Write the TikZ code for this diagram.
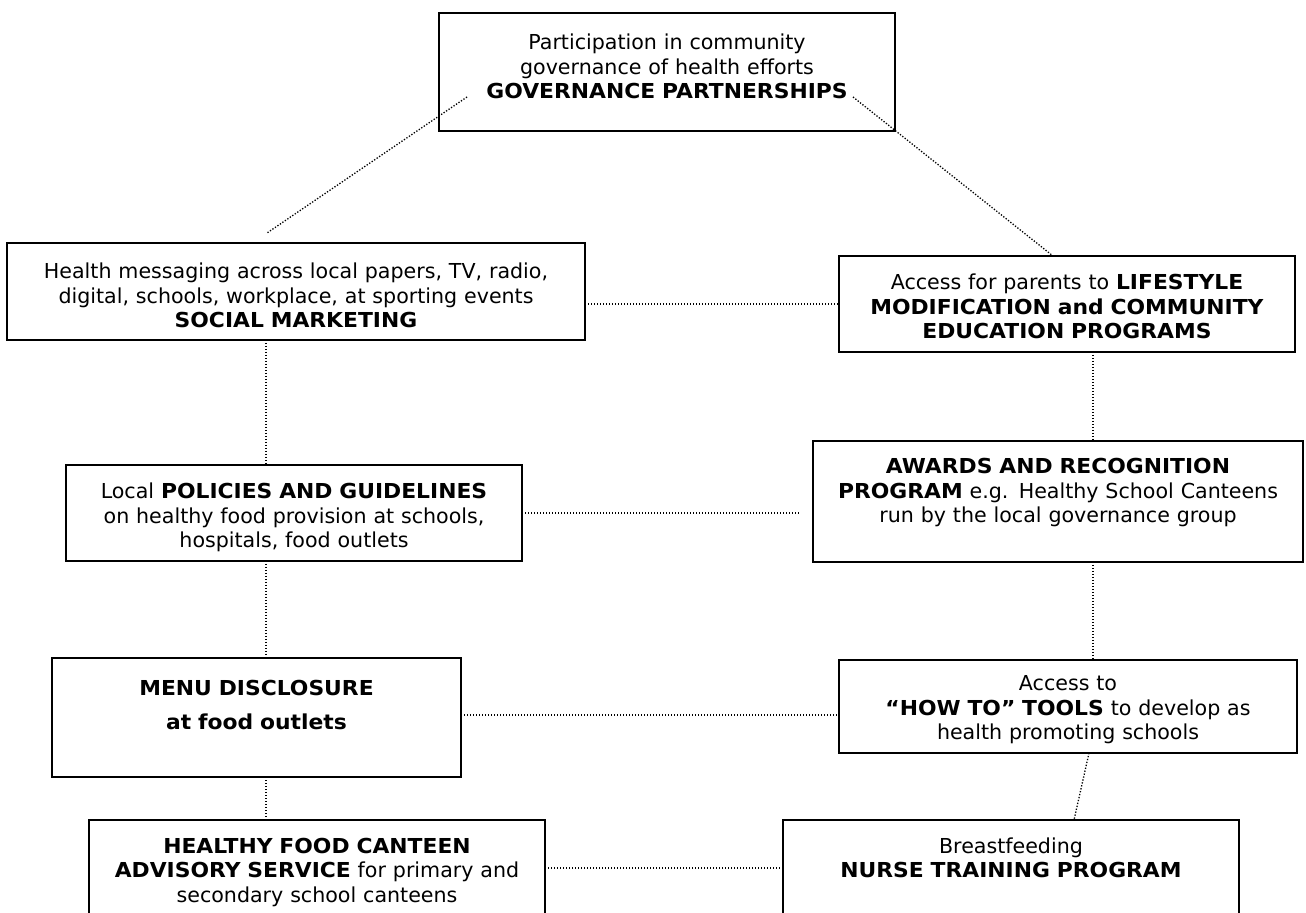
\documentclass[tikz,border=0pt]{standalone}
\usepackage{fontspec}
\setmainfont{DejaVu Sans}[BoldFeatures={FakeStretch=1.06}]
\usetikzlibrary{calc}

\begin{document}
\begin{tikzpicture}[x=0.5pt,y=-0.5pt,
    panel/.style={draw,line width=1pt,inner sep=0pt,outer sep=0pt,anchor=north west,
      align=center,font=\fontsize{10.3pt}{12.25pt}\selectfont},
    link/.style={line width=0.65pt,dash pattern=on 0.65pt off 0.85pt}]

  \clip (0,0) rectangle (1306,913);
  \fill[white] (0,0) rectangle (1306,913);

  % columns of the vertical links
  \coordinate (lcol) at (266,0);
  \coordinate (rcol) at (1093,0);

  \node[panel,text width=228pt,text height=18.5pt,text depth=40.5pt] (gov) at (439,13)
    {Participation in community\\governance of health efforts\\\textbf{GOVERNANCE PARTNERSHIPS}};
  \node[panel,text width=289pt,text height=18pt,text depth=30.5pt] (soc) at (7,243)
    {Health messaging across local papers, TV, radio,\\digital, schools, workplace, at sporting events\\\textbf{SOCIAL MARKETING}};
  \node[panel,text width=228pt,text height=17pt,text depth=31pt] (life) at (839,256)
    {Access for parents to \textbf{LIFESTYLE}\\\textbf{MODIFICATION and COMMUNITY}\\\textbf{EDUCATION PROGRAMS}};
  \node[panel,text width=228pt,text height=17pt,text depth=31pt] (pol) at (66,465)
    {Local \textbf{POLICIES AND GUIDELINES}\\on healthy food provision at schools,\\hospitals, food outlets};
  \node[panel,text width=245pt,text height=16.5pt,text depth=44pt] (award) at (813,441)
    {\textbf{AWARDS AND RECOGNITION}\\\textbf{PROGRAM} e.g. Healthy School Canteens\\run by the local governance group};
  \node[panel,text width=204.5pt,text height=19pt,text depth=40.5pt] (menu) at (52,658)
    {\textbf{MENU DISCLOSURE}\\[4.75pt]\textbf{at food outlets}};
  \node[panel,text width=229pt,text height=15.5pt,text depth=31pt] (tools) at (839,660)
    {Access to\\\textbf{“HOW TO” TOOLS} to develop as\\health promoting schools};
  \node[panel,text width=228pt,text height=16.5pt,text depth=31.5pt] (canteen) at (89,820)
    {\textbf{HEALTHY FOOD CANTEEN}\\\textbf{ADVISORY SERVICE} for primary and\\secondary school canteens};
  \node[panel,text width=228pt,text height=16.5pt,text depth=31.5pt] (nurse) at (783,820)
    {Breastfeeding\\\textbf{NURSE TRAINING PROGRAM}};

  \draw[link] ($(gov.south west)+(28,-34)$) -- ($(lcol |- soc.north)+(1,-10)$);
  \draw[link] ($(gov.south east)+(-42,-34)$) -- ($(life.north)+(-14,0)$);

  \path[link] (soc.east |- life.west) edge (life.west)
              (pol.east) edge ($(pol.east -| award.west)+(-14,0)$)
              (menu.east |- 0,715) edge (tools.west |- 0,715)
              (canteen.east) edge (nurse.west)
              (lcol |- soc.south) edge (lcol |- pol.north)
              (lcol |- pol.south) edge (lcol |- menu.north)
              (lcol |- menu.south) edge (lcol |- canteen.north)
              (rcol |- life.south) edge (rcol |- award.north)
              (rcol |- award.south) edge (rcol |- tools.north)
              ($(tools.south)+(21,0)$) edge ($(nurse.north)+(63,0)$);
\end{tikzpicture}
\end{document}
